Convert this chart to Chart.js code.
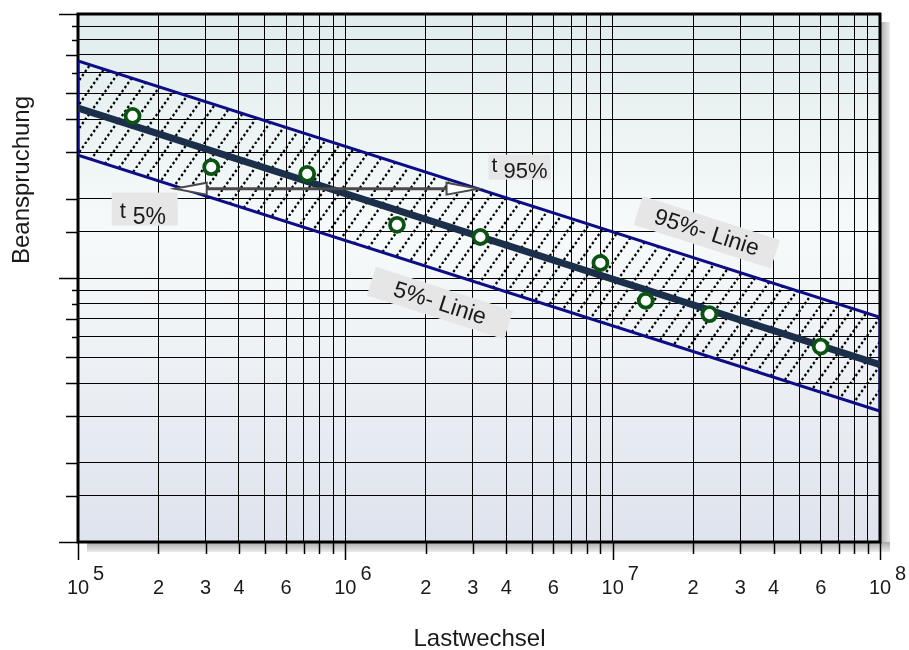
<!DOCTYPE html>
<html>
<head>
<meta charset="utf-8">
<title>Wöhlerlinie mit Streuband</title>
<script src="https://cdn.jsdelivr.net/npm/chart.js@4.4.1/dist/chart.umd.min.js"></script>
<style>
  html, body { margin: 0; padding: 0; background: #ffffff; }
  #wrap { width: 909px; height: 650px; position: relative; }
</style>
</head>
<body>
<div id="wrap"><canvas id="chart" width="909" height="650"></canvas></div>
<script>
// Test results: load cycles (Lastwechsel) and stress level (Beanspruchung)
const cycles = [1.6e5, 3.15e5, 7.2e5, 1.56e6, 3.2e6, 9.0e6, 1.33e7, 2.3e7, 6.0e7];
const stress = [411, 263, 248, 159, 143, 114, 82, 73, 55];

// Regression line (50 %) and the 5 % / 95 % limits at both ends of the cycle range
const bandCycles = [1e5, 1e8];
const meanLine = [440, 47];
const upper95 = [664, 71];
const lower5 = [292, 31.3];

// Scatter range marker T between the 5 % and 95 % lines
const tCycles = [2.3e5, 3.15e6];
const tStress = 218;

// Where the two limit lines are labelled
const label95At = [2.25e7, 149];
const label5At = [2.26e6, 80.4];

// Axis ticks
const xDecades = [5, 6, 7, 8];
const xMultipliers = [1, 2, 3, 4, 5, 6, 7, 8, 9];
const xLabeledMultipliers = [2, 3, 4, 6];
const yGridValues = [10, 15, 20, 30, 40, 50, 60, 70, 80, 90, 100, 150, 200, 300, 400, 500, 600, 700, 800, 900, 1000];
const yMajorTicks = [10, 100, 1000];
const yShortTicks = [60, 80, 90, 600, 800, 900];

const xGridValues = [];
xDecades.forEach(d => {
  xMultipliers.forEach(m => {
    const v = m * Math.pow(10, d);
    if (v <= 1e8) xGridValues.push(v);
  });
});

// Diagonal dashed hatching for the scatter band
function makeHatch() {
  const w = 17, h = 24;
  const c = document.createElement('canvas');
  c.width = w; c.height = h;
  const g = c.getContext('2d');
  g.strokeStyle = '#000000';
  g.lineWidth = 2.2;
  g.setLineDash([2.45, 2.45]);
  for (const dx of [-w, 0, w]) {
    g.beginPath();
    g.moveTo(dx, h);
    g.lineTo(dx + w, 0);
    g.stroke();
  }
  return document.getElementById('chart').getContext('2d').createPattern(c, 'repeat');
}

const FONT = 'Liberation Sans, Arial, Helvetica, sans-serif';
const TEXT = '#1a1a1a';

const plotBackground = {
  id: 'plotBackground',
  beforeDraw(chart) {
    const { ctx, chartArea: a } = chart;
    ctx.save();
    // drop shadow to the right and below the plot frame
    let g = ctx.createLinearGradient(a.right, 0, a.right + 10, 0);
    g.addColorStop(0, '#a9a9a9');
    g.addColorStop(1, '#ececec');
    ctx.fillStyle = g;
    ctx.fillRect(a.right, a.top + 8, 10, a.bottom - a.top + 2);
    g = ctx.createLinearGradient(0, a.bottom, 0, a.bottom + 10);
    g.addColorStop(0, '#a9a9a9');
    g.addColorStop(1, '#ececec');
    ctx.fillStyle = g;
    ctx.fillRect(a.left + 9, a.bottom, a.right - a.left + 1, 10);
    // plot area gradient
    g = ctx.createLinearGradient(0, a.top, 0, a.bottom);
    g.addColorStop(0, '#e0ecec');
    g.addColorStop(0.42, '#f7fafa');
    g.addColorStop(1, '#dee3ed');
    ctx.fillStyle = g;
    ctx.fillRect(a.left, a.top, a.right - a.left, a.bottom - a.top);
    ctx.restore();
  },
  beforeDatasetsDraw(chart) {
    const { ctx, chartArea: a } = chart;
    ctx.save();
    ctx.strokeStyle = '#000000';
    ctx.lineWidth = 3;
    ctx.strokeRect(a.left, a.top, a.right - a.left, a.bottom - a.top);
    ctx.restore();
  }
};

const axisDecor = {
  id: 'axisDecor',
  afterDraw(chart) {
    const { ctx, chartArea: a, scales: { x, y } } = chart;
    ctx.save();
    ctx.strokeStyle = '#000000';
    ctx.lineWidth = 1.5;
    // y tick marks
    yGridValues.forEach(v => {
      const py = Math.round(y.getPixelForValue(v)) + 0.5;
      let len = 12;
      if (yMajorTicks.includes(v)) len = 19;
      else if (yShortTicks.includes(v)) len = 6;
      ctx.beginPath();
      ctx.moveTo(a.left - len, py);
      ctx.lineTo(a.left, py);
      ctx.stroke();
    });
    // x tick marks
    xGridValues.forEach(v => {
      const px = Math.round(x.getPixelForValue(v)) + 0.5;
      const isDecade = Math.abs(Math.log10(v) - Math.round(Math.log10(v))) < 1e-9;
      const len = isDecade ? 18 : 12;
      ctx.beginPath();
      ctx.moveTo(px, a.bottom);
      ctx.lineTo(px, a.bottom + len);
      ctx.stroke();
    });
    // x tick labels
    ctx.fillStyle = TEXT;
    ctx.textBaseline = 'alphabetic';
    const base = a.bottom + 52;
    xDecades.forEach(d => {
      const px = x.getPixelForValue(Math.pow(10, d));
      ctx.font = '20px ' + FONT;
      ctx.textAlign = 'center';
      ctx.fillText('10', px, base);
      const w = ctx.measureText('10').width;
      ctx.textAlign = 'left';
      ctx.fillText(String(d), px + w / 2 + 4, base - 14);
      if (d < 8) {
        xLabeledMultipliers.forEach(m => {
          ctx.textAlign = 'center';
          ctx.fillText(String(m), x.getPixelForValue(m * Math.pow(10, d)), base);
        });
      }
    });
    // axis titles
    ctx.font = '24px ' + FONT;
    ctx.textAlign = 'center';
    ctx.fillText('Lastwechsel', (a.left + a.right) / 2 + 0.5, 646);
    ctx.save();
    ctx.translate(29, 180);
    ctx.rotate(-Math.PI / 2);
    ctx.fillText('Beanspruchung', 0, 0);
    ctx.restore();
    ctx.restore();
  }
};

const annotations = {
  id: 'annotations',
  afterDatasetsDraw(chart) {
    const { ctx, scales: { x, y } } = chart;
    ctx.save();
    const x1 = x.getPixelForValue(tCycles[0]);
    const x2 = x.getPixelForValue(tCycles[1]);
    const py = y.getPixelForValue(tStress);
    // horizontal T marker with open arrow heads
    ctx.strokeStyle = '#4a4a4a';
    ctx.lineWidth = 3;
    ctx.beginPath();
    ctx.moveTo(x1 + 30, py);
    ctx.lineTo(x2 - 30, py);
    ctx.stroke();
    ctx.lineWidth = 2;
    ctx.fillStyle = '#ffffff';
    [[x1, 1], [x2, -1]].forEach(([tip, dir]) => {
      ctx.beginPath();
      ctx.moveTo(tip, py);
      ctx.lineTo(tip + dir * 32, py - 6);
      ctx.lineTo(tip + dir * 32, py + 6);
      ctx.closePath();
      ctx.fill();
      ctx.stroke();
    });
    // t 5% and t 95% labels
    const tLabel = (bx, by, bw, bh, sub, size, tx, sx) => {
      ctx.fillStyle = '#e6e6e6';
      ctx.fillRect(bx, by, bw, bh);
      ctx.fillStyle = TEXT;
      ctx.textAlign = 'left';
      ctx.textBaseline = 'alphabetic';
      ctx.font = (size - 1) + 'px ' + FONT;
      ctx.fillText('t', bx + tx, by + bh - 8);
      ctx.font = size + 'px ' + FONT;
      ctx.fillText(sub, bx + sx, by + bh - 2);
    };
    tLabel(x1 - 63, py + 4, 66, 33, '5%', 23, 8, 21);
    tLabel(x2 + 10, py - 34, 62, 25, '95%', 22, 3, 15);

    // rotated labels along the limit lines
    const angle = Math.atan2(
      y.getPixelForValue(upper95[1]) - y.getPixelForValue(upper95[0]),
      x.getPixelForValue(bandCycles[1]) - x.getPixelForValue(bandCycles[0])
    );
    const lineLabel = (at, text) => {
      ctx.save();
      ctx.translate(x.getPixelForValue(at[0]), y.getPixelForValue(at[1]));
      ctx.rotate(angle);
      ctx.fillStyle = '#e6e6e6';
      ctx.fillRect(-72, -15, 144, 30);
      ctx.fillStyle = TEXT;
      ctx.font = '23px ' + FONT;
      ctx.textAlign = 'center';
      ctx.textBaseline = 'middle';
      ctx.fillText(text, 0, 1);
      ctx.restore();
    };
    lineLabel(label95At, '95%- Linie');
    lineLabel(label5At, '5%- Linie');
    ctx.restore();
  }
};

const pointsData = cycles.map((c, i) => ({ x: c, y: stress[i] }));
const meanData = bandCycles.map((c, i) => ({ x: c, y: meanLine[i] }));
const bandData = [
  { x: bandCycles[0], y: upper95[0] },
  { x: bandCycles[1], y: upper95[1] },
  { x: bandCycles[1], y: lower5[1] },
  { x: bandCycles[0], y: lower5[0] },
  { x: bandCycles[0], y: upper95[0] }
];

const gridOpts = { color: '#000000', lineWidth: 1, drawTicks: false };

new Chart(document.getElementById('chart'), {
  type: 'scatter',
  data: {
    datasets: [
      {
        label: 'Versuchswerte',
        data: pointsData,
        pointRadius: 7,
        pointHoverRadius: 7,
        pointBorderWidth: 3.8,
        pointBorderColor: '#0b5313',
        pointBackgroundColor: '#ffffff',
        showLine: false
      },
      {
        label: '50%',
        data: meanData,
        showLine: true,
        borderColor: '#1b2f4a',
        borderWidth: 7,
        pointRadius: 0,
        fill: false
      },
      {
        label: 'Streuband',
        data: bandData,
        showLine: true,
        borderColor: '#0d0d86',
        borderWidth: 3,
        pointRadius: 0,
        fill: 'shape',
        backgroundColor: makeHatch()
      }
    ]
  },
  options: {
    responsive: false,
    animation: false,
    events: [],
    layout: { padding: { left: 78, right: 29, top: 14, bottom: 108 } },
    plugins: { legend: { display: false }, tooltip: { enabled: false } },
    scales: {
      x: {
        type: 'logarithmic',
        min: 1e5,
        max: 1e8,
        afterBuildTicks: s => { s.ticks = xGridValues.map(v => ({ value: v })); },
        ticks: { display: false },
        grid: gridOpts,
        border: { display: false }
      },
      y: {
        type: 'logarithmic',
        min: 10,
        max: 1000,
        afterBuildTicks: s => { s.ticks = yGridValues.map(v => ({ value: v })); },
        ticks: { display: false },
        grid: gridOpts,
        border: { display: false }
      }
    }
  },
  plugins: [plotBackground, axisDecor, annotations]
});
</script>
</body>
</html>
